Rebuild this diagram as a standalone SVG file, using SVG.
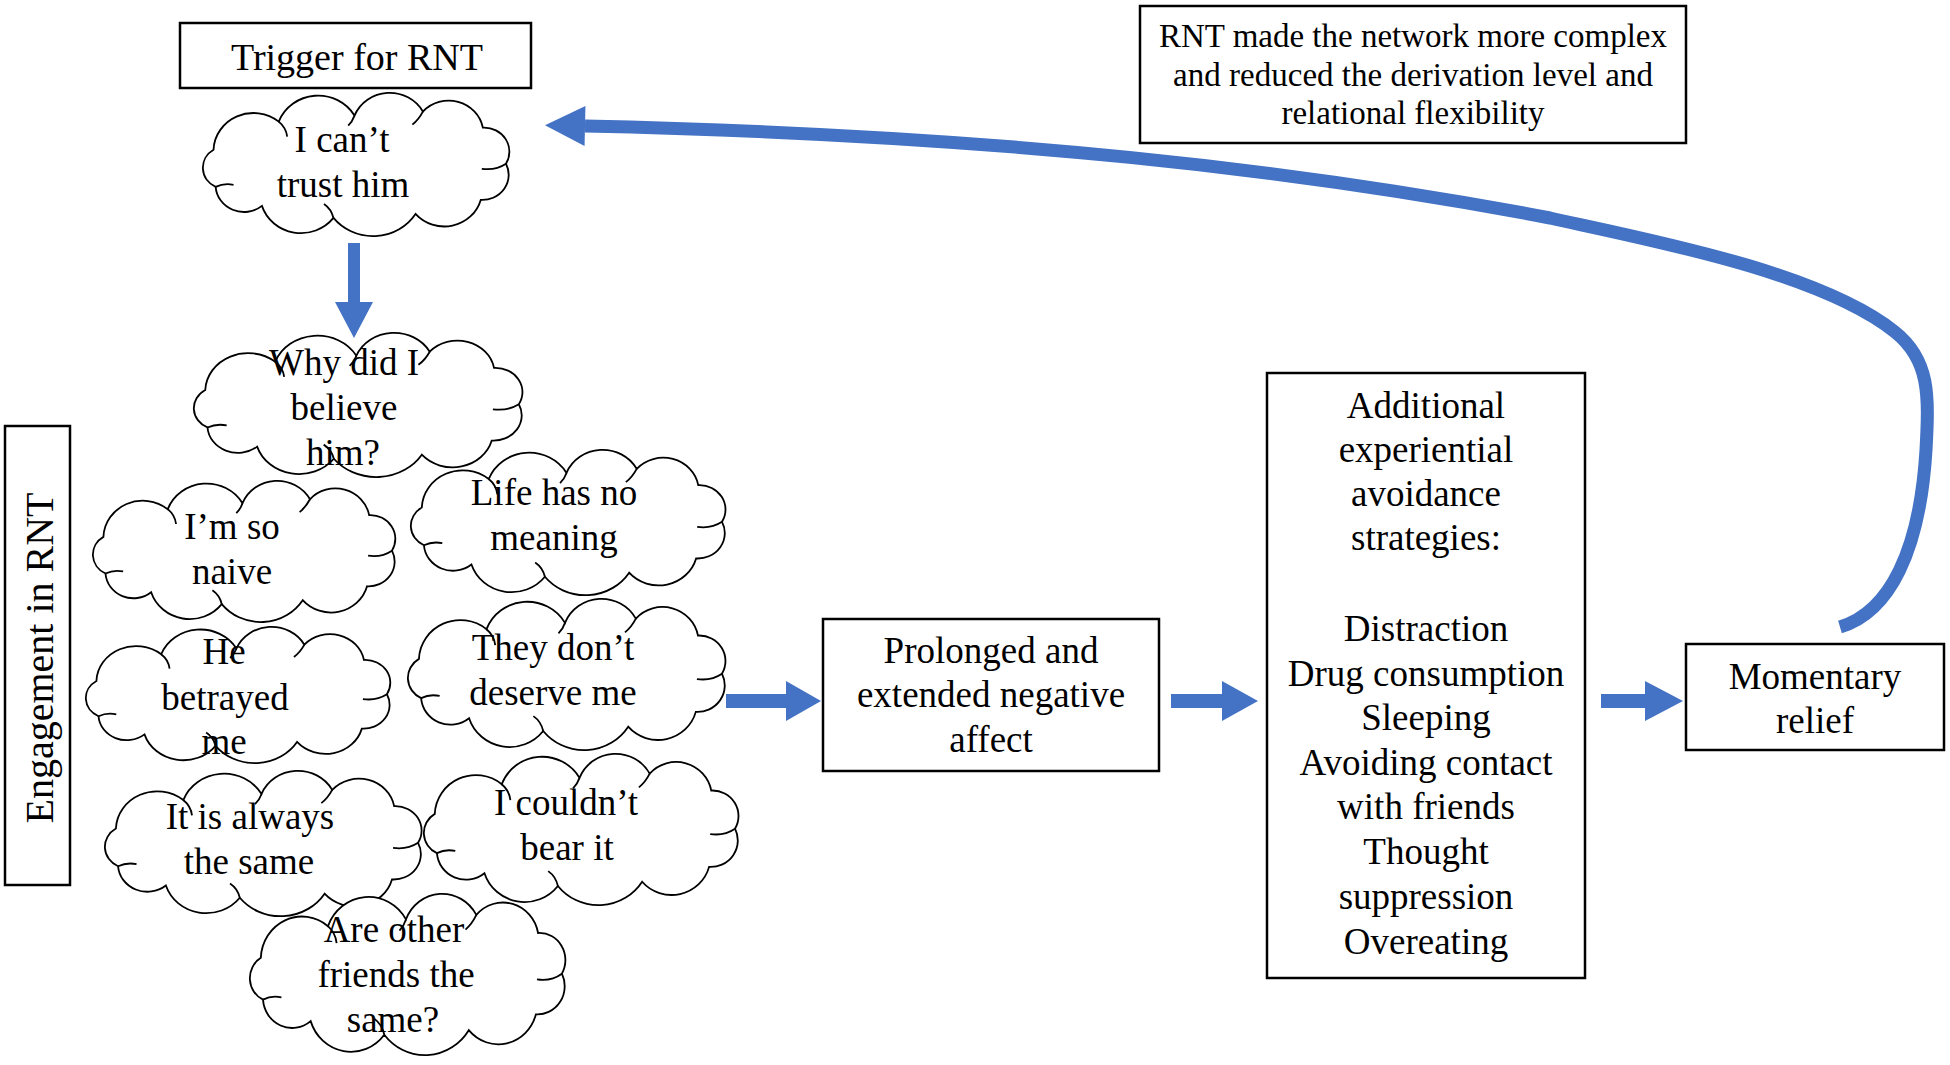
<svg xmlns="http://www.w3.org/2000/svg" xmlns:xlink="http://www.w3.org/1999/xlink" width="1950" height="1065" viewBox="0 0 1950 1065">
<style>
.box{fill:#fff;stroke:#000;stroke-width:2.5}
.cl{fill:#fff;stroke:#000;stroke-width:1.8;vector-effect:non-scaling-stroke}
.cr{fill:none;stroke:#000;stroke-width:1.8;vector-effect:non-scaling-stroke}
text{font-family:"Liberation Serif","Times New Roman",serif;font-size:37px;fill:#000;text-anchor:middle}
.sm{font-size:33px}
.big{font-size:40px}
.arr{fill:#4472C4}
.curve{fill:none;stroke:#4472C4;stroke-width:13;stroke-linecap:butt}
</style>
<defs>
<g id="cloud">
<path class="cl" d="M16,58 A38,38 0 0 1 78,30 A40,40 0 0 1 150,24 A36,36 0 0 1 215,20 A33,33 0 0 1 272,36 A24,24 0 0 1 294,72 A25,25 0 0 1 270,108 A36,36 0 0 1 208,122 A48,48 0 0 1 130,126 A39,39 0 0 1 62,114 A27,27 0 0 1 18,95 A21,21 0 0 1 16,58 Z"/>
<path class="cr" d="M78,30 Q85,36 86,45 M215,20 Q211,28 205,33 M294,72 Q284,79 271,77 M130,126 Q128,117 121,112 M18,95 Q26,91 35,93 M150,24 Q148,30 144,34"/>
</g>
<marker id="head" markerUnits="userSpaceOnUse" markerWidth="42" markerHeight="44" refX="0" refY="22" orient="auto" viewBox="0 0 42 44" overflow="visible">
<path d="M0,2 L40,22 L0,42 Z" fill="#4472C4"/>
</marker>
</defs>

<g id="trigger">
<rect class="box" x="180" y="23" width="351" height="65"/>
<text x="357" y="70" style="font-size:38px">Trigger for RNT</text>
</g>

<g id="note">
<rect class="box" x="1140" y="6" width="546" height="137"/>
<text class="sm" x="1413" y="47">RNT made the network more complex</text>
<text class="sm" x="1413" y="86" textLength="480">and reduced the derivation level and</text>
<text class="sm" x="1413" y="124">relational flexibility</text>
</g>

<g id="engagement">
<rect class="box" x="5" y="426" width="65" height="459"/>
<text class="big" transform="translate(53,658) rotate(-90)">Engagement in RNT</text>
</g>

<g id="c1">
<use xlink:href="#cloud" transform="translate(196.7,91.5) scale(1.052,1.0035)"/>
<text x="342" y="152">I can’t</text>
<text x="343" y="197">trust him</text>
</g>

<g id="c2">
<use xlink:href="#cloud" transform="translate(187.2,331.5) scale(1.128,1.01)"/>
<text x="344" y="375">Why did I</text>
<text x="344" y="420">believe</text>
<text x="343" y="465">him?</text>
</g>

<g id="c4">
<use xlink:href="#cloud" transform="translate(404.5,448.5) scale(1.08,1.018)"/>
<text x="554" y="505">Life has no</text>
<text x="554" y="550">meaning</text>
</g>

<g id="c3">
<use xlink:href="#cloud" transform="translate(86.8,479.5) scale(1.038,0.989)"/>
<text x="232" y="539">I’m so</text>
<text x="232" y="584">naive</text>
</g>

<g id="c6">
<use xlink:href="#cloud" transform="translate(401.5,597.4) scale(1.09,1.06)"/>
<text x="553" y="660">They don’t</text>
<text x="553" y="705">deserve me</text>
</g>

<g id="c5">
<use xlink:href="#cloud" transform="translate(79.7,625.6) scale(1.045,0.954)"/>
<text x="224" y="664">He</text>
<text x="225" y="710">betrayed</text>
<text x="224" y="754">me</text>
</g>

<g id="c8">
<use xlink:href="#cloud" transform="translate(417.5,752.4) scale(1.08,1.06)"/>
<text x="566" y="815">I couldn’t</text>
<text x="567" y="860">bear it</text>
</g>

<g id="c7">
<use xlink:href="#cloud" transform="translate(98.5,769.5) scale(1.087,1.018)"/>
<text x="250" y="829">It is always</text>
<text x="249" y="874">the same</text>
</g>

<g id="c9">
<use xlink:href="#cloud" transform="translate(243.5,892.3) scale(1.083,1.13)"/>
<text x="394" y="942">Are other</text>
<text x="396" y="987">friends the</text>
<text x="393" y="1032">same?</text>
</g>

<g id="prolonged">
<rect class="box" x="823" y="619" width="336" height="152"/>
<text x="991" y="663">Prolonged and</text>
<text x="991" y="707">extended negative</text>
<text x="991" y="752">affect</text>
</g>

<g id="avoidance">
<rect class="box" x="1267" y="373" width="318" height="605"/>
<text x="1426" y="418">Additional</text>
<text x="1426" y="462">experiential</text>
<text x="1426" y="506">avoidance</text>
<text x="1426" y="550">strategies:</text>
<text x="1426" y="641">Distraction</text>
<text x="1426" y="686">Drug consumption</text>
<text x="1426" y="730">Sleeping</text>
<text x="1426" y="775">Avoiding contact</text>
<text x="1426" y="819">with friends</text>
<text x="1426" y="864">Thought</text>
<text x="1426" y="909">suppression</text>
<text x="1426" y="954">Overeating</text>
</g>

<g id="relief">
<rect class="box" x="1686" y="644" width="258" height="106"/>
<text x="1815" y="689">Momentary</text>
<text x="1815" y="733">relief</text>
</g>

<g id="connectors">
<polygon class="arr" points="348,243 360,243 360,302 373,302 354,338 335,302 348,302"/>
<polygon class="arr" points="726,694 786,694 786,681 821,701 786,721 786,708 726,708"/>
<polygon class="arr" points="1171,694 1222,694 1222,681 1258,701 1222,721 1222,708 1171,708"/>
<polygon class="arr" points="1601,694 1645,694 1645,681 1683,701 1645,721 1645,708 1601,708"/>
<path class="curve" d="M1840,627 C1890,612 1920,550 1926,450 C1929,395 1930,360 1895,332 C1820,272 1650,240 1550,218 C1300,170 1000,135 585,126" marker-end="url(#head)"/>
</g>
</svg>
